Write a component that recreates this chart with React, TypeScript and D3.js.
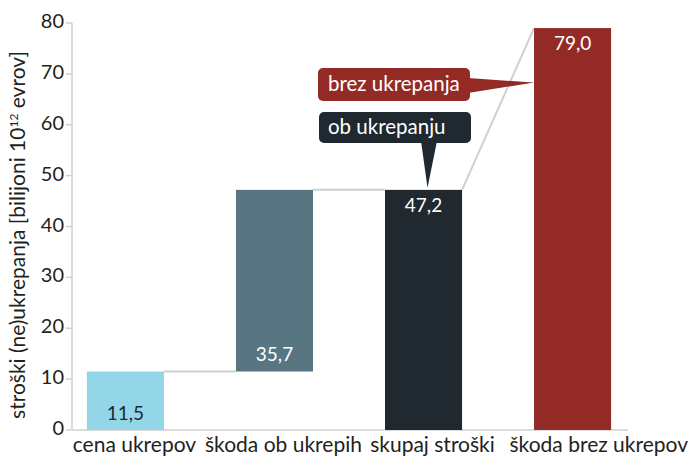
import React from 'react';
import * as d3 from 'd3';

const categories = ['cena ukrepov', 'škoda ob ukrepih', 'skupaj stroški', 'škoda brez ukrepov'];
const barStarts = [0, 11.5, 0, 0];
const barEnds = [11.5, 47.2, 47.2, 79.0];
const barLabels = ['11,5', '35,7', '47,2', '79,0'];
const barColors = ['#92d6e7', '#587582', '#1f292f', '#942a25'];
const labelColors = ['#1f292f', '#ffffff', '#ffffff', '#ffffff'];
const labelAtTop = [false, false, true, true];
const yTicks = [0, 10, 20, 30, 40, 50, 60, 70, 80];

const W = 690;
const H = 457;
const FONT = 'Lato, "Open Sans", sans-serif';
const TEXT = '#231f20';

const App = () => {
    const x = d3.scaleBand<string>()
        .domain(categories)
        .range([72, 626])
        .paddingInner(0.483)
        .paddingOuter(0.1);
    const y = d3.scaleLinear().domain([0, 80]).range([430, 23]);
    const bw = x.bandwidth();

    const xs = categories.map(c => x(c) as number);

    // grey connectors between the bars
    const connectors = [
        { x1: xs[0] + bw, y1: y(barEnds[0]), x2: xs[1], y2: y(barStarts[1]) },
        { x1: xs[1] + bw, y1: y(barEnds[1]), x2: xs[2], y2: y(barEnds[2]) },
        { x1: xs[2] + bw, y1: y(barEnds[2]), x2: xs[3], y2: y(barEnds[3]) },
    ];

    // callout tips
    const redTip = { x: xs[3], y: y(68.3) };
    const darkTip = { x: xs[2] + bw / 2 + 4, y: y(47.6) };

    return (
        <svg width={W} height={H} style={{ position: 'absolute', left: 0, top: 0 }} fontFamily={FONT}>
            <rect width={W} height={H} fill="#fff" />
            {/* axes */}
            <line x1={72} x2={72} y1={y(80)} y2={y(0)} stroke="#d0d0d0" strokeWidth={1.5} />
            <line x1={72} x2={628} y1={y(0)} y2={y(0)} stroke="#d0d0d0" strokeWidth={1.5} />
            {yTicks.map(t => (
                <g key={t}>
                    <line x1={66} x2={72} y1={y(t)} y2={y(t)} stroke="#d0d0d0" strokeWidth={1.5} />
                    <text x={64} y={y(t) - 2} dy="0.35em" textAnchor="end" fontSize={20} fill={TEXT}>{t}</text>
                </g>
            ))}
            <text transform={`translate(25,235) rotate(-90)`} textAnchor="middle" fontSize={21} fill={TEXT}>
                stroški (ne)ukrepanja [bilijoni 10<tspan dy={-7} fontSize={12}>12</tspan>
                <tspan dy={7}> evrov]</tspan>
            </text>

            {connectors.map((c, i) => (
                <line key={i} x1={c.x1} y1={c.y1} x2={c.x2} y2={c.y2} stroke="#cfcfcf" strokeWidth={2} />
            ))}

            {categories.map((c, i) => {
                const last = i === categories.length - 1;
                return (
                    <g key={c}>
                        <rect x={xs[i]} width={bw} y={y(barEnds[i])} height={y(barStarts[i]) - y(barEnds[i])}
                              fill={barColors[i]} />
                        <text x={xs[i] + bw / 2}
                              y={labelAtTop[i] ? y(barEnds[i]) + 22 : y(barStarts[i]) - 10}
                              textAnchor="middle" fontSize={19} fill={labelColors[i]}>{barLabels[i]}</text>
                        <text x={last ? W - 2 : xs[i] + bw / 2 + 9} y={452}
                              textAnchor={last ? 'end' : 'middle'} fontSize={21} fill={TEXT}>{c}</text>
                    </g>
                );
            })}

            {/* callout: brez ukrepanja */}
            <path d={`M468,78 L${redTip.x},${redTip.y} L468,93 Z`} fill="#942a25" />
            <rect x={318} y={68} width={152} height={33} rx={5} fill="#942a25" />
            <text x={328} y={84} dy="0.35em" fontSize={20.5} fill="#fff">brez ukrepanja</text>

            {/* callout: ob ukrepanju */}
            <path d={`M421,141 L${darkTip.x},${darkTip.y} L437,141 Z`} fill="#1f292f" />
            <rect x={319} y={112} width={152} height={31} rx={5} fill="#1f292f" />
            <text x={328} y={127} dy="0.35em" fontSize={20.5} fill="#fff">ob ukrepanju</text>
        </svg>
    );
};

export default App;
